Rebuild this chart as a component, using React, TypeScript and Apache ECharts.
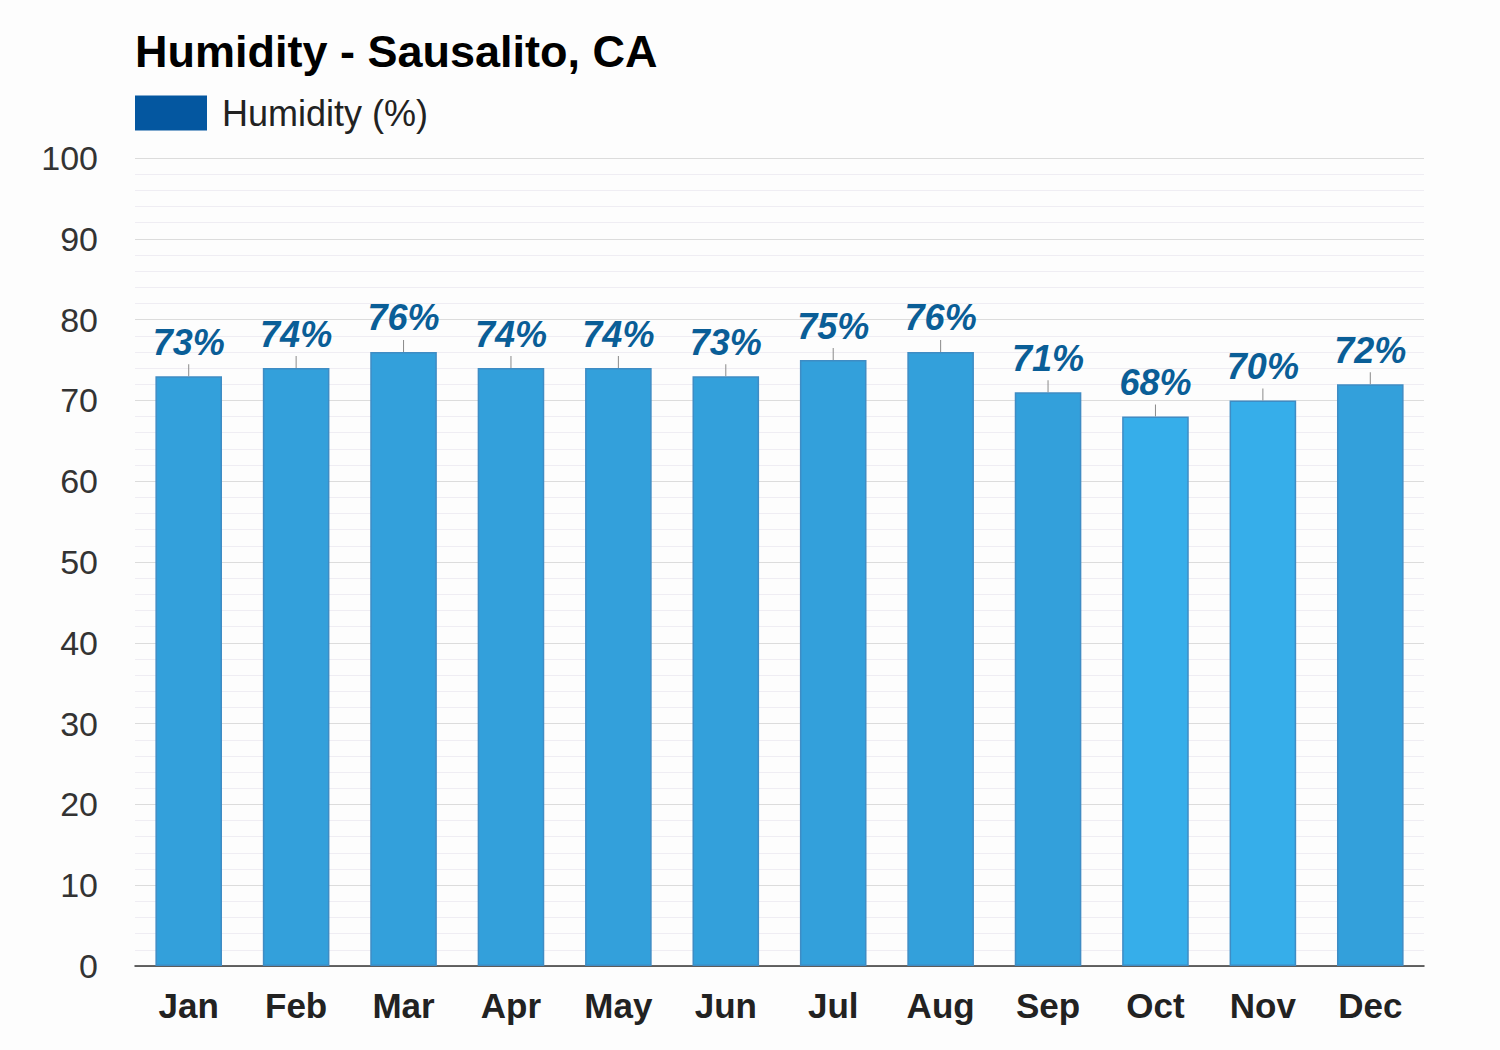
import React, { useEffect, useRef } from "react";
import * as echarts from "echarts";

const months = ["Jan", "Feb", "Mar", "Apr", "May", "Jun", "Jul", "Aug", "Sep", "Oct", "Nov", "Dec"];
const humidity = [73, 74, 76, 74, 74, 73, 75, 76, 71, 68, 70, 72];
const yTicks = [0, 10, 20, 30, 40, 50, 60, 70, 80, 90, 100];

const FONT = "'Liberation Sans', Arial, Helvetica, sans-serif";

export default function App() {
  const ref = useRef<HTMLDivElement>(null);
  useEffect(() => {
    if (!ref.current) return;
    const chart = echarts.init(ref.current, undefined, { renderer: "svg" });
    chart.setOption({
      animation: false,
      backgroundColor: "#fdfdfd",
      textStyle: { fontFamily: FONT },
      title: {
        text: "Humidity - Sausalito, CA",
        left: 130,
        top: 24,
        textStyle: { fontSize: 45, fontWeight: "bold", color: "#000", fontFamily: FONT },
      },
      legend: {
        data: [{ name: "Humidity (%)", icon: "rect" }],
        left: 135,
        top: 95,
        padding: 0,
        itemWidth: 72,
        itemHeight: 35,
        itemStyle: { color: "#0457a0", borderWidth: 0 },
        textStyle: { fontSize: 36, color: "#222", fontFamily: FONT, padding: [0, 0, 0, 10] },
        selectedMode: false,
      },
      grid: { left: 135, right: 76, top: 158, bottom: 84, containLabel: false },
      xAxis: {
        type: "category",
        data: months,
        axisLine: { show: true, lineStyle: { color: "#333", width: 1.5 } },
        axisTick: { show: false },
        axisLabel: { fontSize: 35, fontWeight: "bold", color: "#222", margin: 22, fontFamily: FONT },
      },
      yAxis: {
        type: "value",
        min: yTicks[0],
        max: yTicks[yTicks.length - 1],
        interval: 10,
        axisLine: { show: false },
        axisTick: { show: false },
        axisLabel: { fontSize: 34, color: "#333", margin: 37, fontFamily: FONT },
        splitLine: { show: true, lineStyle: { color: "#dcdcdc", width: 1 } },
        minorTick: { show: false, splitNumber: 5 },
        minorSplitLine: { show: true, lineStyle: { color: "#efedf3", width: 1 } },
      },
      series: [
        {
          name: "Humidity (%)",
          type: "bar",
          barWidth: "62%",
          data: humidity.map((v) => ({
            value: v,
            itemStyle: {
              color: v <= 70 ? "#36aeea" : "#33a0db",
              borderColor: "#3f8cc4",
              borderWidth: 1.5,
            },
          })),
        },
        {
          name: "labels",
          type: "scatter",
          data: humidity,
          symbol: "rect",
          symbolSize: [1, 12],
          symbolOffset: [0, -6],
          itemStyle: { color: "#8a8a8a", opacity: 1 },
          silent: true,
          z: 5,
          label: {
            show: true,
            position: "top",
            distance: 4,
            formatter: "{c}%",
            fontSize: 36,
            fontWeight: "bold",
            fontStyle: "italic",
            color: "#0a5e97",
            opacity: 1,
            fontFamily: FONT,
          },
        },
      ],
    });
    return () => chart.dispose();
  }, []);
  return (
    <div
      ref={ref}
      style={{ position: "fixed", left: 0, top: 0, width: 1500, height: 1050 }}
    />
  );
}
